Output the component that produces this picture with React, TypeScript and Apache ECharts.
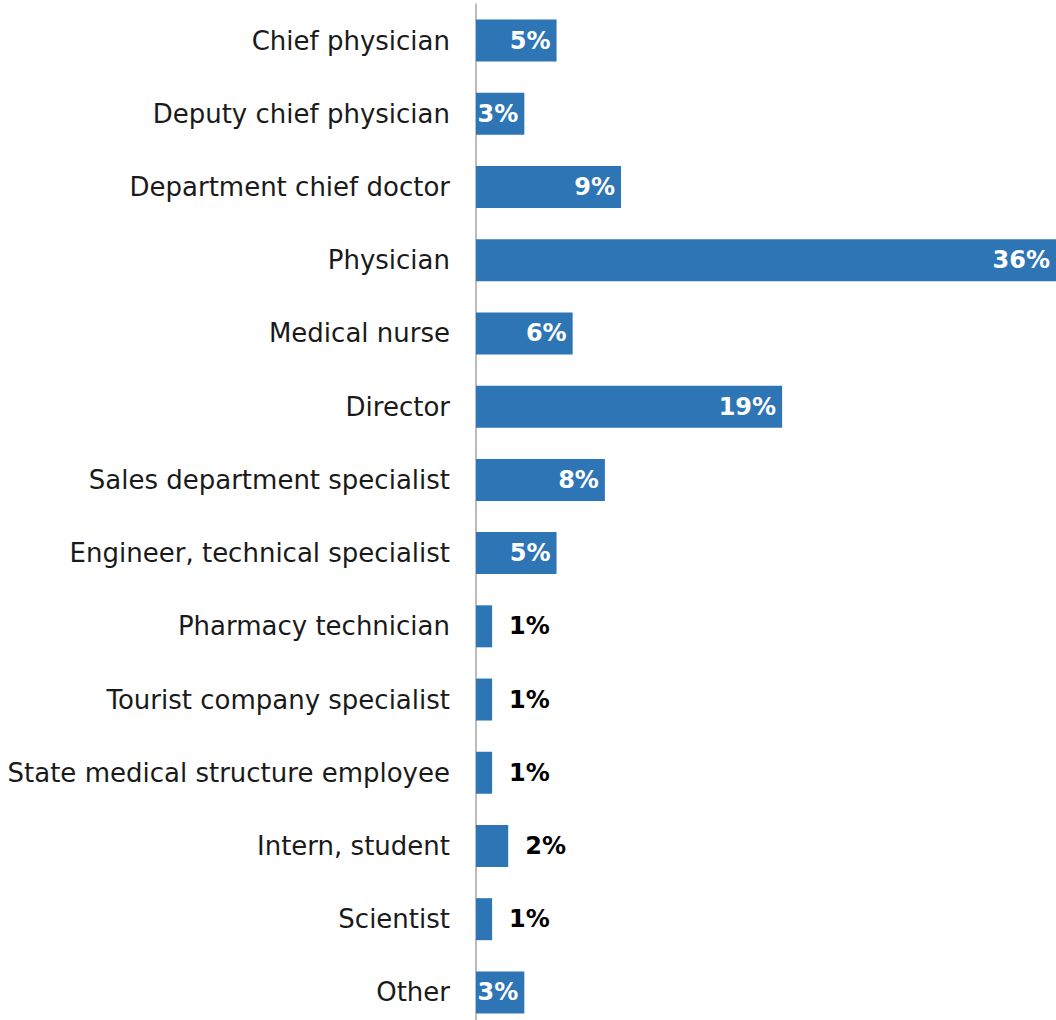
import React, { useEffect, useRef } from "react";
import * as echarts from "echarts";

const categories = [
  "Chief physician",
  "Deputy chief physician",
  "Department chief doctor",
  "Physician",
  "Medical nurse",
  "Director",
  "Sales department specialist",
  "Engineer, technical specialist",
  "Pharmacy technician",
  "Tourist company specialist",
  "State medical structure employee",
  "Intern, student",
  "Scientist",
  "Other",
];
const values = [5, 3, 9, 36, 6, 19, 8, 5, 1, 1, 1, 2, 1, 3];
const insideThreshold = 3;

export default function App() {
  const ref = useRef<HTMLDivElement>(null);
  useEffect(() => {
    if (!ref.current) return;
    const chart = echarts.init(ref.current, null, { renderer: "svg" });
    const data = values.map((v) => {
      const inside = v >= insideThreshold;
      return {
        value: v,
        label: inside
          ? { position: "insideRight", distance: 6, color: "#ffffff" }
          : { position: "right", distance: 17, color: "#000000" },
      };
    });
    chart.setOption({
      animation: false,
      grid: { left: 476, right: 0, top: 4, height: 1025, containLabel: false },
      xAxis: {
        type: "value",
        min: 0,
        max: 36,
        show: false,
      },
      yAxis: {
        type: "category",
        data: categories,
        inverse: true,
        axisLine: { show: true, lineStyle: { color: "#a6a6a6", width: 1.5 } },
        axisTick: { show: false },
        axisLabel: {
          margin: 26,
          fontFamily: "DejaVu Sans",
          fontSize: 26,
          color: "#1a1a1a",
        },
      },
      series: [
        {
          type: "bar",
          data,
          barWidth: 42,
          itemStyle: { color: "#2e75b6" },
          label: {
            show: true,
            formatter: "{c}%",
            fontFamily: "DejaVu Sans",
            fontWeight: "bold",
            fontSize: 24,
          },
        },
      ],
    });
    return () => chart.dispose();
  }, []);
  return (
    <div
      style={{
        position: "absolute",
        left: 0,
        top: 0,
        width: 1056,
        height: 1020,
        overflow: "hidden",
      }}
    >
      <div ref={ref} style={{ width: 1056, height: 1040 }} />
    </div>
  );
}
